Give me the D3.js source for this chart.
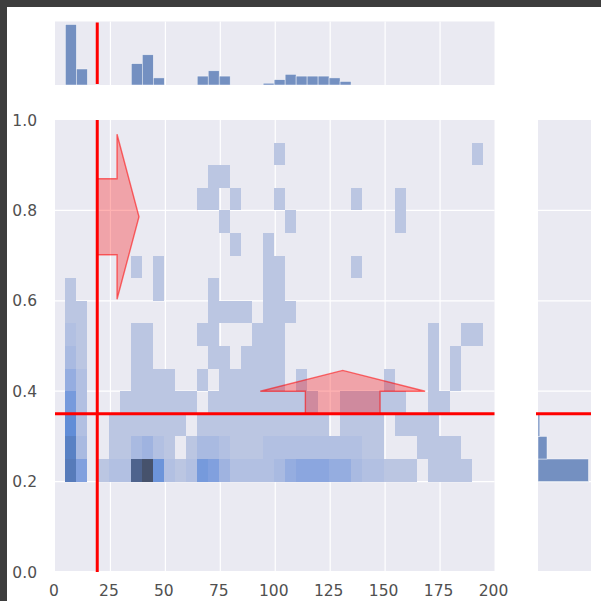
<!DOCTYPE html>
<html><head><meta charset="utf-8">
<script src="https://cdn.jsdelivr.net/npm/d3@7"></script>
<style>html,body{margin:0;padding:0;background:#fff;} svg{display:block}</style>
</head><body>
<svg id="chart" width="601" height="601"></svg>
<script>
// ---------------- data ----------------
const xTicks = [0, 25, 50, 75, 100, 125, 150, 175, 200];
const yTicks = [0.0, 0.2, 0.4, 0.6, 0.8, 1.0];
const xBinStart = 4.5, xBinWidth = 5;      // x bins: 4.5 .. 199.5
const yBinStart = 0.2, yBinHeight = 0.05;  // y bins: 0.20 .. 0.95

// joint 2D histogram counts, row 0 = y bin 0.20-0.25 ... row 14 = 0.90-0.95
const jointCounts = [
  [13,7,0,1,2, 2,17,20,9,2, 1,2,8,7,4, 2,2,2,2,3, 5,6,6,6,5, 5,3,2,2,1, 1,1,0,1,1, 1,1,0,0],
  [12,3,0,0,1, 1,3,4,2,1, 0,1,3,3,2, 1,1,1,2,2, 2,2,2,2,2, 2,2,1,1,0, 0,0,1,1,1, 1,0,0,0],
  [10,2,0,0,1, 1,1,1,1,1, 1,0,1,1,1, 1,1,1,1,1, 1,1,1,1,0, 1,1,1,1,0, 1,1,1,1,0, 0,0,0,0],
  [8,2,0,0,0, 1,1,1,1,1, 1,1,0,1,1, 1,1,1,1,1, 1,1,1,0,0, 1,1,1,1,1, 1,0,0,1,1, 0,0,0,0],
  [5,2,0,0,0, 0,1,1,1,1, 0,0,1,0,1, 1,1,1,1,1, 0,1,0,0,0, 0,0,0,0,1, 0,0,0,1,0, 1,0,0,0],
  [3,1,0,0,0, 0,1,1,0,0, 0,0,0,1,1, 0,1,1,1,1, 0,0,0,0,0, 0,0,0,0,0, 0,0,0,1,0, 1,0,0,0],
  [2,1,0,0,0, 0,1,1,0,0, 0,0,1,1,0, 0,0,1,1,1, 0,0,0,0,0, 0,0,0,0,0, 0,0,0,1,0, 0,1,1,0],
  [1,1,0,0,0, 0,0,0,0,0, 0,0,0,1,1, 1,1,0,1,1, 1,0,0,0,0, 0,0,0,0,0, 0,0,0,0,0, 0,0,0,0],
  [1,0,0,0,0, 0,0,0,1,0, 0,0,0,1,0, 0,0,0,1,1, 0,0,0,0,0, 0,0,0,0,0, 0,0,0,0,0, 0,0,0,0],
  [0,0,0,0,0, 0,1,0,1,0, 0,0,0,0,0, 0,0,0,1,1, 0,0,0,0,0, 0,1,0,0,0, 0,0,0,0,0, 0,0,0,0],
  [0,0,0,0,0, 0,0,0,0,0, 0,0,0,0,0, 1,0,0,1,0, 0,0,0,0,0, 0,0,0,0,0, 0,0,0,0,0, 0,0,0,0],
  [0,0,0,0,0, 0,0,0,0,0, 0,0,0,0,1, 0,0,0,0,0, 1,0,0,0,0, 0,0,0,0,0, 1,0,0,0,0, 0,0,0,0],
  [0,0,0,0,0, 0,0,0,0,0, 0,0,1,1,0, 1,0,0,0,1, 0,0,0,0,0, 0,1,0,0,0, 1,0,0,0,0, 0,0,0,0],
  [0,0,0,0,0, 0,0,0,0,0, 0,0,0,1,1, 0,0,0,0,0, 0,0,0,0,0, 0,0,0,0,0, 0,0,0,0,0, 0,0,0,0],
  [0,0,0,0,0, 0,0,0,0,0, 0,0,0,0,0, 0,0,0,0,1, 0,0,0,0,0, 0,0,0,0,0, 0,0,0,0,0, 0,0,1,0]
];
// marginal histograms
const topCounts = [34,9,0,0,0, 0,12,17,4,0, 0,0,5,8,5, 0,0,0,1,3, 6,5,5,5,4, 2,0,0,0,0, 0,0,0,0,0, 0,0,0,0];
const rightCounts = [56,10,2,0,0, 0,0,0,0,0, 0,0,0,0,0];
// reference lines and annotation arrows (data units)
const xThreshold = 19;
const yThreshold = 0.35;
const rightArrow = {x: 19, y: 0.786, dx: 9, width: 0.168, headWidth: 0.365, headLength: 10};
const upArrow = {x: 130.7, y: 0.35, dy: 0.05, width: 34, headWidth: 75, headLength: 0.046};

// ---------------- husl colormap (seaborn light ramp) ----------------
const M = [[3.2406, -1.5372, -0.4986], [-0.9689, 1.8758, 0.0415], [0.0557, -0.2040, 1.0570]];
const MI = [[0.4124, 0.3576, 0.1805], [0.2126, 0.7152, 0.0722], [0.0193, 0.1192, 0.9505]];
const refU = 0.19784, refV = 0.46834, labE = 0.008856, labK = 903.3;
function maxChroma(L, H) {
  const hr = H * Math.PI / 180, sinH = Math.sin(hr), cosH = Math.cos(hr);
  const sub1 = Math.pow(L + 16, 3) / 1560896, sub2 = sub1 > labE ? sub1 : L / labK;
  let res = Infinity;
  for (const [m1, m2, m3] of M) {
    const top = (0.99915 * m1 + 1.05122 * m2 + 1.14460 * m3) * sub2;
    const rb = 0.86330 * m3 - 0.17266 * m2, lb = 0.12949 * m3 - 0.38848 * m1;
    const bottom = (rb * sinH + lb * cosH) * sub2;
    for (const t of [0, 1]) {
      const C = L * (top - 1.05122 * t) / (bottom + 0.17266 * sinH * t);
      if (C > 0 && C < res) res = C;
    }
  }
  return res;
}
function huslToRgb(H, S, L) {
  const C = maxChroma(L, H) / 100 * S;
  const hr = H * Math.PI / 180, U = Math.cos(hr) * C, V = Math.sin(hr) * C;
  const t = (L + 16) / 116;
  const Y = Math.pow(t, 3) > labE ? Math.pow(t, 3) : (116 * t - 16) / labK;
  const vU = U / (13 * L) + refU, vV = V / (13 * L) + refV;
  const X = 0 - (9 * Y * vU) / ((vU - 4) * vV - vU * vV);
  const Z = (9 * Y - 15 * vV * Y - vV * X) / (3 * vV);
  const f = c => c <= 0.0031308 ? 12.92 * c : 1.055 * Math.pow(c, 1 / 2.4) - 0.055;
  return M.map(r => Math.max(0, Math.min(1, f(r[0] * X + r[1] * Y + r[2] * Z))));
}
function rgbToHusl(r, g, b) {
  const lin = c => c > 0.04045 ? Math.pow((c + 0.055) / 1.055, 2.4) : c / 12.92;
  const v = [lin(r), lin(g), lin(b)];
  const [X, Y, Z] = MI.map(row => row[0] * v[0] + row[1] * v[1] + row[2] * v[2]);
  const d = X + 15 * Y + 3 * Z, vU = 4 * X / d, vV = 9 * Y / d;
  const L = 116 * (Y > labE ? Math.cbrt(Y) : 7.787 * Y + 16 / 116) - 16;
  const U = 13 * L * (vU - refU), V = 13 * L * (vV - refV);
  const C = Math.hypot(U, V);
  let H = Math.atan2(V, U) * 180 / Math.PI; if (H < 0) H += 360;
  return [H, C / maxChroma(L, H) * 100, L];
}
const baseColor = d3.rgb("#4c72b0");
const [bh, bs] = rgbToHusl(baseColor.r / 255, baseColor.g / 255, baseColor.b / 255);
const ramp = d3.range(256).map(i => {
  const xx = -1 + 2 * i / (Math.floor(1.15 * 256) - 1);
  const rgb = huslToRgb(bh, bs * Math.cos(xx), 35 + 45 * i / 255);
  return d3.rgb(rgb[0] * 255, rgb[1] * 255, rgb[2] * 255).formatHex();
}).reverse();

// ---------------- layout ----------------
const svg = d3.select("#chart");
const BG = "#eaeaf2";
const main = {l: 55, r: 494.5, t: 120, b: 571};
const topM = {t: 21.5, b: 85};
const rightM = {l: 538, r: 591};

svg.append("rect").attr("x", 0).attr("y", 0).attr("width", 601).attr("height", 601).attr("fill", "#fff");
svg.append("rect").attr("x", 0).attr("y", 0).attr("width", 601).attr("height", 7).attr("fill", "#3d3d3d");
svg.append("rect").attr("x", 0).attr("y", 0).attr("width", 7).attr("height", 601).attr("fill", "#3d3d3d");

const x = d3.scaleLinear().domain([0, 200]).range([55.5, 495]);
const y = d3.scaleLinear().domain([0, 1]).range([572, 120]);
const topMax = d3.max(topCounts) * 1.05;
const yTop = d3.scaleLinear().domain([0, topMax]).range([topM.b, topM.t]);
const rightMax = d3.max(rightCounts) * 1.05;
const xRight = d3.scaleLinear().domain([0, rightMax]).range([rightM.l, rightM.r]);

const xEdge = k => xBinStart + k * xBinWidth;
const yEdge = j => yBinStart + j * yBinHeight;

// axes backgrounds
svg.append("rect").attr("x", main.l).attr("y", main.t).attr("width", main.r - main.l).attr("height", main.b - main.t).attr("fill", BG);
svg.append("rect").attr("x", main.l).attr("y", topM.t).attr("width", main.r - main.l).attr("height", topM.b - topM.t).attr("fill", BG);
svg.append("rect").attr("x", rightM.l).attr("y", main.t).attr("width", rightM.r - rightM.l).attr("height", main.b - main.t).attr("fill", BG);

// gridlines
const grid = svg.append("g").attr("stroke", "#fff").attr("stroke-width", 1.2);
xTicks.filter(t => t > 0 && t < 200).forEach(t => {
  grid.append("line").attr("x1", x(t)).attr("x2", x(t)).attr("y1", main.t).attr("y2", main.b);
  grid.append("line").attr("x1", x(t)).attr("x2", x(t)).attr("y1", topM.t).attr("y2", topM.b);
});
yTicks.filter(t => t > 0 && t < 1).forEach(t => {
  grid.append("line").attr("x1", main.l).attr("x2", main.r).attr("y1", y(t)).attr("y2", y(t));
  grid.append("line").attr("x1", rightM.l).attr("x2", rightM.r).attr("y1", y(t)).attr("y2", y(t));
});

// joint histogram cells
const cells = [];
jointCounts.forEach((row, j) => row.forEach((c, k) => { if (c > 0) cells.push({j, k, c}); }));
const vmin = d3.min(cells, d => d.c), vmax = d3.max(cells, d => d.c);
const colorOf = c => {
  const v = (c - vmin) / (vmax - vmin);
  return ramp[Math.max(0, Math.min(255, Math.floor(v * 256)))];
};
svg.append("g").attr("shape-rendering", "crispEdges").selectAll("rect").data(cells).join("rect")
  .attr("x", d => x(xEdge(d.k)))
  .attr("width", d => x(xEdge(d.k + 1)) - x(xEdge(d.k)))
  .attr("y", d => y(yEdge(d.j + 1)))
  .attr("height", d => y(yEdge(d.j)) - y(yEdge(d.j + 1)))
  .attr("fill", d => colorOf(d.c));

// top marginal bars
svg.append("g").selectAll("rect").data(topCounts.map((c, k) => ({c, k})).filter(d => d.c > 0)).join("rect")
  .attr("x", d => x(xEdge(d.k)))
  .attr("width", d => x(xEdge(d.k + 1)) - x(xEdge(d.k)))
  .attr("y", d => yTop(d.c))
  .attr("height", d => yTop(0) - yTop(d.c))
  .attr("fill", "#4c72b0").attr("fill-opacity", 0.75)
  .attr("stroke", "#fff").attr("stroke-opacity", 0.75).attr("stroke-width", 0.6);

// right marginal bars
svg.append("g").selectAll("rect").data(rightCounts.map((c, j) => ({c, j})).filter(d => d.c > 0)).join("rect")
  .attr("x", xRight(0))
  .attr("width", d => xRight(d.c) - xRight(0))
  .attr("y", d => y(yEdge(d.j + 1)))
  .attr("height", d => y(yEdge(d.j)) - y(yEdge(d.j + 1)))
  .attr("fill", "#4c72b0").attr("fill-opacity", 0.75)
  .attr("stroke", "#fff").attr("stroke-opacity", 0.75).attr("stroke-width", 0.6);

// arrows
const ra = rightArrow;
const raPts = [
  [ra.x, ra.y + ra.width / 2], [ra.x + ra.dx, ra.y + ra.width / 2], [ra.x + ra.dx, ra.y + ra.headWidth / 2],
  [ra.x + ra.dx + ra.headLength, ra.y], [ra.x + ra.dx, ra.y - ra.headWidth / 2],
  [ra.x + ra.dx, ra.y - ra.width / 2], [ra.x, ra.y - ra.width / 2]
];
const ua = upArrow;
const uaPts = [
  [ua.x - ua.width / 2, ua.y], [ua.x - ua.width / 2, ua.y + ua.dy], [ua.x - ua.headWidth / 2, ua.y + ua.dy],
  [ua.x, ua.y + ua.dy + ua.headLength], [ua.x + ua.headWidth / 2, ua.y + ua.dy],
  [ua.x + ua.width / 2, ua.y + ua.dy], [ua.x + ua.width / 2, ua.y]
];
[raPts, uaPts].forEach(pts => {
  svg.append("polygon")
    .attr("points", pts.map(p => [x(p[0]), y(p[1])].join(",")).join(" "))
    .attr("fill", "rgba(255,0,0,0.3)")
    .attr("stroke", "rgba(255,0,0,0.55)").attr("stroke-width", 1.4);
});

// red threshold lines
const red = svg.append("g").attr("stroke", "#ff0000").attr("stroke-width", 3);
red.append("line").attr("x1", x(xThreshold)).attr("x2", x(xThreshold)).attr("y1", topM.t + 1).attr("y2", topM.b - 1);
red.append("line").attr("x1", x(xThreshold)).attr("x2", x(xThreshold)).attr("y1", main.t).attr("y2", main.b + 1);
red.append("line").attr("x1", main.l).attr("x2", main.r).attr("y1", y(yThreshold)).attr("y2", y(yThreshold));
red.append("line").attr("x1", rightM.l - 2).attr("x2", rightM.r).attr("y1", y(yThreshold)).attr("y2", y(yThreshold));

// tick labels
const fmtY = d3.format(".1f");
svg.append("g").selectAll("text").data(xTicks).join("text")
  .attr("x", d => x(d) - 1.5).attr("y", 596)
  .attr("text-anchor", "middle")
  .attr("font-family", "DejaVu Sans, sans-serif").attr("font-size", 15.5).attr("fill", "#505050")
  .text(d => d);
svg.append("g").selectAll("text").data(yTicks).join("text")
  .attr("x", 37).attr("y", d => y(d)).attr("dy", "0.36em")
  .attr("text-anchor", "end")
  .attr("font-family", "DejaVu Sans, sans-serif").attr("font-size", 15.5).attr("fill", "#505050")
  .text(d => fmtY(d));
</script>
</body></html>
